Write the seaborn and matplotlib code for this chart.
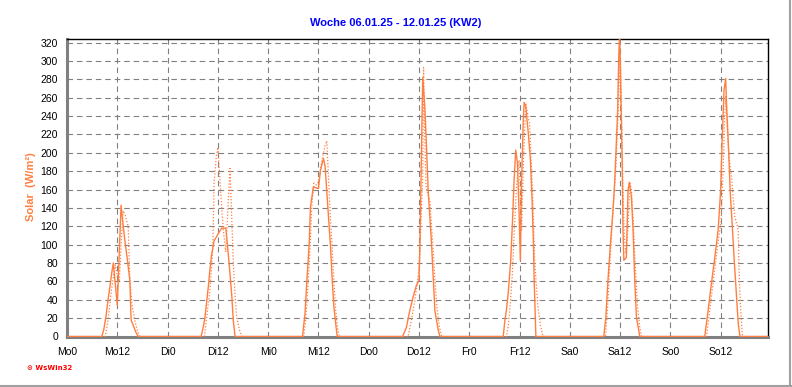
import numpy as np
import pandas as pd
import matplotlib
matplotlib.use("Agg")
import matplotlib.pyplot as plt
import seaborn as sns
from matplotlib.ticker import MultipleLocator
from matplotlib.lines import Line2D

# ---------------- data ----------------
day_names = ["Mo", "Di", "Mi", "Do", "Fr", "Sa", "So"]
tick_labels = [f"{d}{h}" for d in day_names for h in (0, 12)]
title_text = "Woche 06.01.25 - 12.01.25 (KW2)"
ylabel_text = "Solar  (W/m²)"
x_end = 167.3  # hours shown (Mo 0:00 .. So ~23:20)

# solid series: hour of day / W/m² per day (Mo..So)
solid_hours = [
    [8.3, 8.8, 9.3, 9.8, 10.3, 10.7, 11.05, 11.5, 12.0, 12.5, 12.9, 13.3, 13.8, 14.4, 15.0, 15.3, 15.8, 16.4, 17.0],
    [8.0, 8.5, 8.9, 9.3, 9.7, 10.1, 10.5, 11.1, 12.1, 12.9, 13.9, 14.2, 14.7, 15.3, 15.7, 16.1],
    [8.2, 8.8, 9.3, 9.8, 10.1, 10.8, 12.0, 12.5, 13.2, 13.6, 14.3, 14.9, 15.3, 15.7, 16.3, 16.5],
    [8.1, 9.0, 9.8, 10.6, 11.4, 12.0, 12.2, 12.4, 12.6, 12.8, 12.9, 13.4, 13.8, 14.2, 14.6, 15.0, 15.4, 15.8, 16.6, 17.0],
    [8.1, 8.5, 8.9, 9.3, 9.9, 10.3, 10.7, 11.1, 11.5, 11.9, 12.2, 12.5, 12.9, 13.1, 13.5, 14.1, 14.6, 15.0, 15.3, 15.5, 15.8, 15.9],
    [8.1, 8.6, 9.1, 9.7, 10.3, 10.7, 11.1, 11.4, 11.7, 11.9, 12.2, 12.5, 12.7, 12.9, 13.5, 13.9, 14.2, 14.7, 15.1, 15.5, 15.9, 16.7],
    [8.2, 9.0, 9.8, 10.6, 11.4, 12.0, 12.3, 12.6, 12.8, 13.2, 13.4, 13.9, 14.3, 14.8, 15.2, 15.8, 16.2, 16.6],
]
solid_values = [
    [0, 8, 22, 40, 56, 70, 80, 58, 34, 95, 143, 125, 105, 84, 61, 18, 12, 5, 0],
    [0, 10, 20, 36, 53, 72, 89, 104, 112, 118, 118, 104, 79, 46, 17, 0],
    [0, 25, 65, 101, 141, 163, 161, 181, 194, 185, 137, 97, 61, 32, 7, 0],
    [0, 10, 28, 43, 56, 61, 94, 148, 206, 261, 282, 250, 206, 159, 130, 101, 65, 28, 7, 0],
    [0, 17, 30, 47, 83, 123, 170, 203, 189, 134, 83, 170, 236, 255, 250, 221, 192, 148, 105, 61, 17, 0],
    [0, 21, 61, 101, 137, 167, 210, 243, 308, 330, 261, 189, 116, 83, 86, 159, 168, 152, 116, 61, 21, 0],
    [0, 28, 58, 86, 116, 159, 206, 243, 268, 281, 254, 203, 156, 119, 86, 43, 14, 0],
]

# dotted series
dotted_hours = [
    [9.1, 9.6, 10.1, 10.6, 11.1, 11.5, 12.0, 12.5, 12.9, 13.4, 13.9, 14.6, 15.0, 15.5, 16.2, 16.8, 17.4],
    [8.8, 9.3, 9.7, 10.1, 10.5, 10.8, 11.1, 11.6, 12.0, 12.5, 13.0, 13.3, 13.9, 14.4, 14.9, 15.3, 15.7, 16.1, 16.5, 17.1, 17.7],
    [8.5, 9.0, 9.5, 10.0, 10.4, 10.9, 11.5, 12.0, 12.6, 13.2, 13.6, 14.0, 14.4, 14.8, 15.3, 15.7, 16.1, 16.6, 17.0],
    [9.4, 10.2, 11.0, 11.6, 12.05, 12.3, 12.6, 12.9, 13.1, 13.3, 13.65, 14.1, 14.6, 15.0, 15.4, 15.8, 16.2, 16.8, 17.4],
    [8.9, 9.3, 9.8, 10.3, 10.8, 11.3, 11.9, 12.5, 13.0, 13.5, 14.0, 14.4, 15.1, 15.6, 16.4, 17.0, 17.6],
    [8.5, 9.0, 9.5, 10.0, 10.5, 11.0, 11.4, 11.8, 12.1, 12.4, 12.7, 13.0, 13.4, 13.9, 14.3, 14.7, 15.2, 15.7, 16.2, 16.7, 17.1],
    [8.6, 9.3, 10.1, 10.9, 11.6, 12.1, 12.5, 12.9, 13.2, 13.5, 13.9, 14.2, 14.6, 15.0, 15.4, 16.2, 16.4, 16.7, 17.2],
]
dotted_values = [
    [0, 12, 30, 50, 66, 78, 66, 60, 100, 137, 132, 120, 62, 35, 17, 6, 0],
    [0, 20, 35, 50, 75, 97, 167, 195, 206, 170, 135, 116, 92, 140, 183, 130, 79, 45, 21, 8, 0],
    [0, 20, 55, 95, 140, 167, 165, 168, 185, 200, 208, 213, 175, 135, 95, 60, 30, 8, 0],
    [0, 18, 39, 58, 76, 100, 141, 175, 293, 235, 165, 155, 148, 120, 94, 62, 36, 12, 0],
    [0, 12, 35, 70, 120, 165, 192, 116, 200, 254, 240, 232, 159, 83, 32, 12, 0],
    [0, 30, 75, 115, 150, 185, 230, 280, 300, 230, 160, 110, 90, 120, 168, 160, 120, 70, 30, 10, 0],
    [0, 25, 55, 85, 110, 125, 170, 230, 262, 235, 200, 188, 174, 150, 130, 116, 72, 36, 0],
]


def week_frame(hours, values):
    t = [0.0]
    v = [0.0]
    for d, (hh, vv) in enumerate(zip(hours, values)):
        t.extend(d * 24 + h for h in hh)
        v.extend(vv)
    t.append(x_end)
    v.append(0.0)
    return pd.DataFrame({"t": t, "v": v})


df_solid = week_frame(solid_hours, solid_values)
df_dotted = week_frame(dotted_hours, dotted_values)

# ---------------- style ----------------
sns.set_style("white")
plt.rcParams["font.family"] = ["Liberation Sans", "DejaVu Sans"]

orange = "#FF7F40"
grid_gray = "#808080"

fig = plt.figure(figsize=(7.92, 3.87), dpi=100)
ax = fig.add_axes([67 / 792, 1 - 336.5 / 387, (768 - 67) / 792, (336.5 - 38.5) / 387])

sns.lineplot(data=df_dotted, x="t", y="v", ax=ax, color=orange, lw=0.9,
             linestyle=(0, (1, 1.5)), estimator=None, sort=False, zorder=3)
sns.lineplot(data=df_solid, x="t", y="v", ax=ax, color=orange, lw=1.0,
             estimator=None, sort=False, zorder=4)

ax.set_xlim(0, x_end)
ax.set_ylim(0, 324.5)

ax.set_xticks(np.arange(0, 14) * 12)
ax.set_xticklabels(tick_labels)
ax.xaxis.set_minor_locator(MultipleLocator(3))
ax.set_yticks(np.arange(0, 321, 20))
ax.yaxis.set_minor_locator(MultipleLocator(5))

ax.set_xlabel("")
ax.set_ylabel("")

ax.grid(True, which="major", color=grid_gray, linestyle=(0, (5, 3.5)), lw=0.8)
ax.set_axisbelow(True)

ax.tick_params(axis="x", which="both", direction="out", length=4, width=1,
               color=grid_gray, labelsize=7.5, pad=3.5, labelcolor="black")
ax.tick_params(axis="y", which="major", direction="out", length=4, width=1,
               color="#606060", labelsize=7.5, pad=2.5, labelcolor="black")
ax.tick_params(axis="y", which="minor", direction="in", length=3, width=1,
               color="#606060")

for side in ("left", "bottom"):
    ax.spines[side].set_color(grid_gray)
    ax.spines[side].set_linewidth(2.2)
for side in ("right", "top"):
    ax.spines[side].set_color("black")
    ax.spines[side].set_linewidth(1.0)
    ax.spines[side].set_visible(True)

fig.text(0.5, 1 - 23 / 387, title_text, ha="center", va="center",
         color="#0000FF", fontweight="bold", fontsize=8)
fig.text(31.5 / 792, 1 - 187 / 387, ylabel_text, ha="center", va="center",
         rotation=90, color=orange, fontweight="bold", fontsize=8)
fig.text(27 / 792, 1 - 367.5 / 387, "⊙ WsWin32", ha="left", va="center",
         color="#FF0000", fontweight="bold", fontsize=5,
         family=["DejaVu Sans"])

# window-like frame at right and bottom
fig.add_artist(Line2D([789.5 / 792, 789.5 / 792], [0, 1], transform=fig.transFigure,
                      color="#A0A0A0", lw=1.5))
fig.add_artist(Line2D([0, 1], [1 - 385.5 / 387, 1 - 385.5 / 387], transform=fig.transFigure,
                      color="#A0A0A0", lw=1.5))

fig.savefig("out.png", dpi=100)
